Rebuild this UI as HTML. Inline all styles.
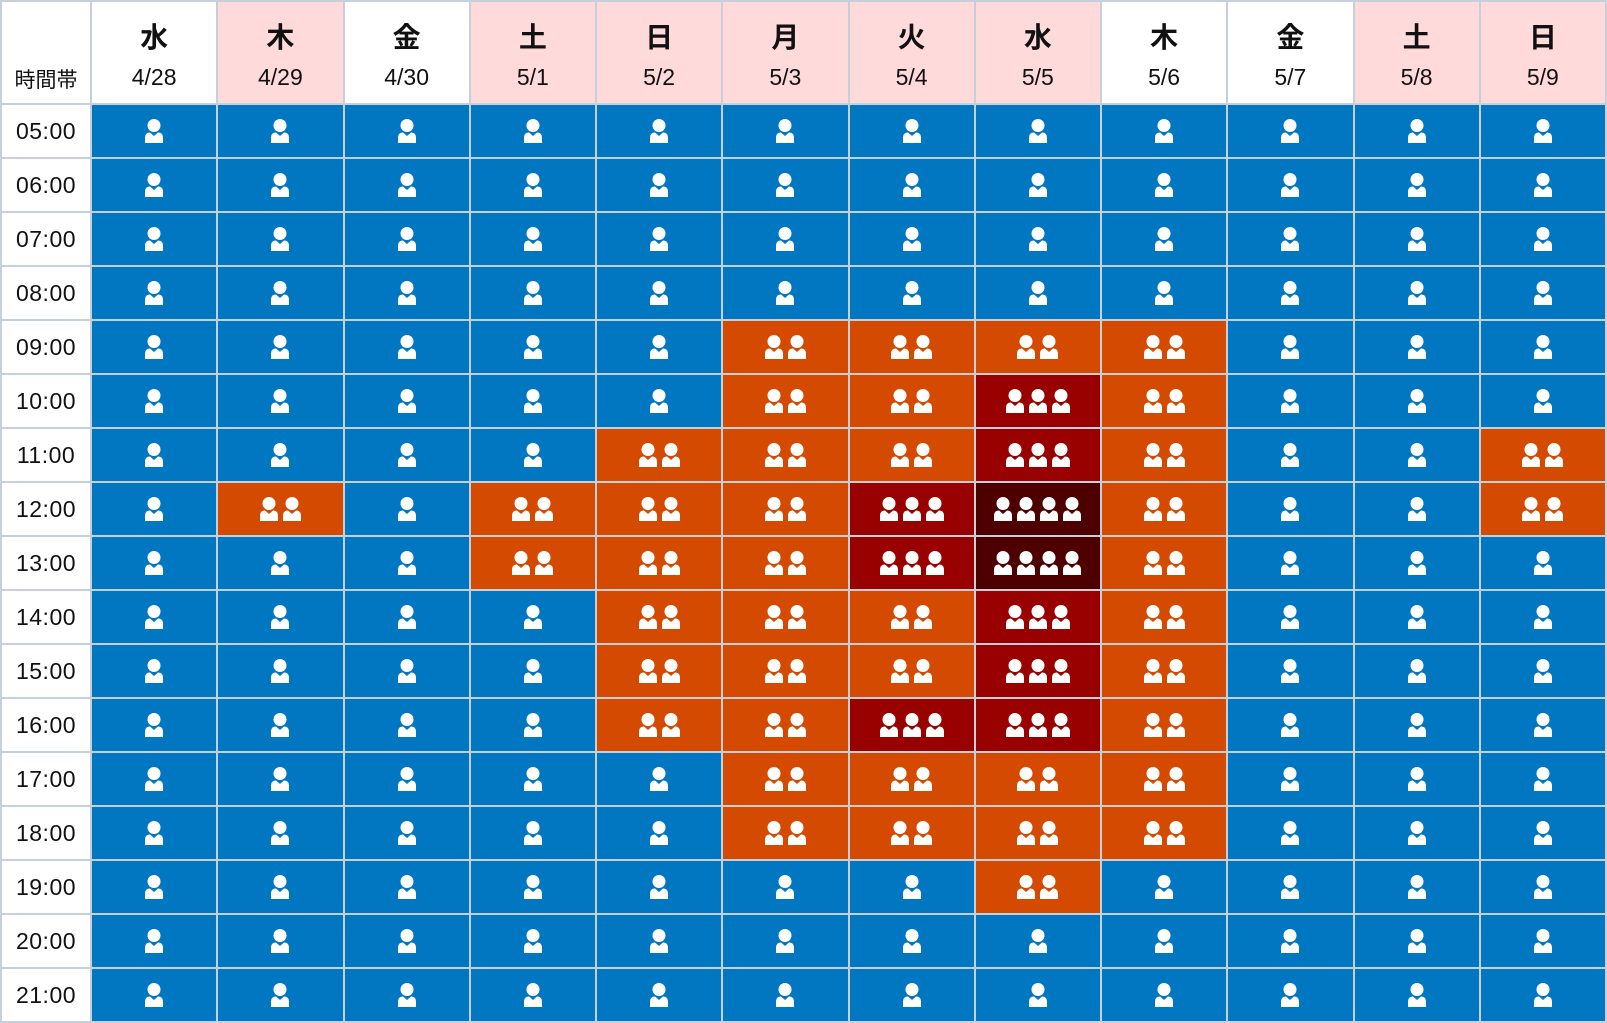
<!DOCTYPE html>
<html><head><meta charset="utf-8"><style>
html,body{margin:0;padding:0;background:#fff;}
body{width:1607px;height:1021px;overflow:hidden;font-family:"Liberation Sans","Noto Sans CJK JP",sans-serif;}
table{border-collapse:collapse;table-layout:fixed;width:1607px;}
td,th{border:2px solid #c6d0da;padding:0;text-align:center;vertical-align:middle;box-sizing:border-box;}
thead tr{height:103px;}
tbody tr{height:54px;}
thead th{font-weight:normal;font-size:23px;color:#111;background:#fff;vertical-align:top;line-height:1;}
thead th.p{background:#ffdada;}
thead th b{display:block;font-size:28px;font-weight:bold;margin-top:22px;margin-bottom:14px;}
thead th.c{vertical-align:bottom;font-size:21px;padding-bottom:12px;}
tbody th{font-weight:normal;font-size:23px;color:#111;background:#fff;letter-spacing:0.5px;}
td.l1{background:#0077c0;}td.l2{background:#d44a00;}td.l3{background:#990000;}td.l4{background:#4e0000;}
td svg{display:block;margin:0 auto;}
</style></head><body>
<table>
<colgroup><col style="width:90px"><col span="12"></colgroup>
<thead><tr>
<th class="c">時間帯</th>
<th><b>水</b>4/28</th><th class="p"><b>木</b>4/29</th><th><b>金</b>4/30</th><th class="p"><b>土</b>5/1</th><th class="p"><b>日</b>5/2</th><th class="p"><b>月</b>5/3</th><th class="p"><b>火</b>5/4</th><th class="p"><b>水</b>5/5</th><th><b>木</b>5/6</th><th><b>金</b>5/7</th><th class="p"><b>土</b>5/8</th><th class="p"><b>日</b>5/9</th>
</tr></thead>
<tbody id="tb">
<tr><th>05:00</th></tr><tr><th>06:00</th></tr><tr><th>07:00</th></tr><tr><th>08:00</th></tr><tr><th>09:00</th></tr><tr><th>10:00</th></tr><tr><th>11:00</th></tr><tr><th>12:00</th></tr><tr><th>13:00</th></tr><tr><th>14:00</th></tr><tr><th>15:00</th></tr><tr><th>16:00</th></tr><tr><th>17:00</th></tr><tr><th>18:00</th></tr><tr><th>19:00</th></tr><tr><th>20:00</th></tr><tr><th>21:00</th></tr>
</tbody></table>
<script>
var L=[];for(var c=0;c<12;c++){L.push([]);for(var r=0;r<17;r++)L[c].push(1);}
function set(c,a,b,v){for(var h=a;h<=b;h++)L[c][h-5]=v;}
set(1,12,12,2);set(3,12,13,2);set(4,11,16,2);set(5,9,18,2);
set(6,9,18,2);set(6,12,13,3);set(6,16,16,3);
set(7,9,19,2);set(7,10,16,3);set(7,12,13,4);
set(8,9,18,2);set(11,11,12,2);
function icon(n){var w=n*23-5,s='<svg width="'+w+'" height="24" viewBox="0 0 '+w+' 24">';
for(var i=0;i<n;i++){var x=i*23;s+='<circle cx="'+(x+9)+'" cy="6.5" r="6.5" fill="#fff"/>'+
'<path d="M'+x+' 24 L'+x+' 19 Q'+x+' 13.5 '+(x+5)+' 13.5 L'+(x+9)+' 17 L'+(x+13)+' 13.5 Q'+(x+18)+' 13.5 '+(x+18)+' 19 L'+(x+18)+' 24 Z" fill="#fff"/>';}
return s+'</svg>';}
var rows=document.getElementById('tb').rows;
for(var r=0;r<17;r++){for(var c=0;c<12;c++){var td=document.createElement('td');var v=L[c][r];td.className='l'+v;td.innerHTML=icon(v);rows[r].appendChild(td);}}
</script>
</body></html>
